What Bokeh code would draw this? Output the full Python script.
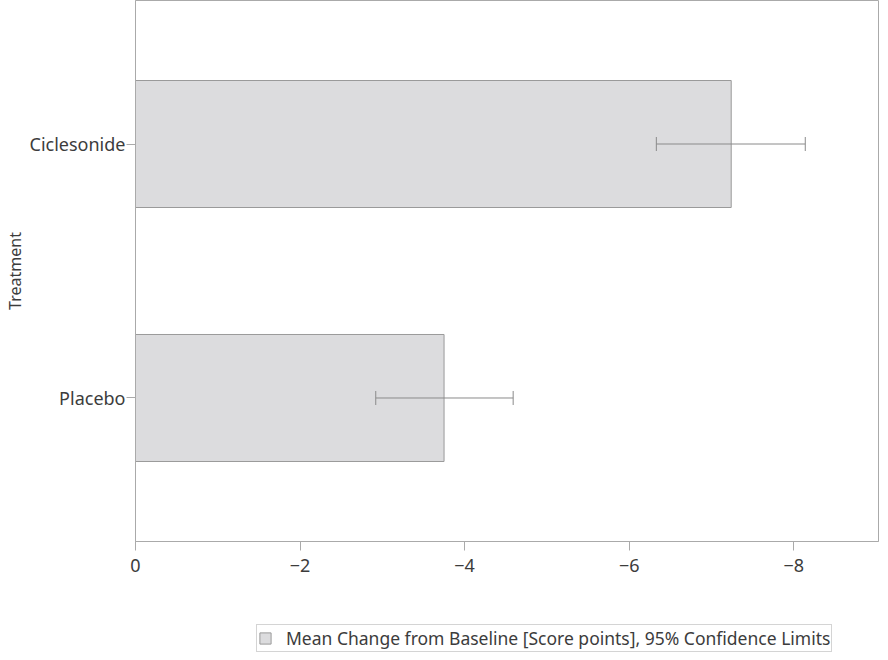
from bokeh.plotting import figure
from bokeh.layouts import column, row
from bokeh.models import (ColumnDataSource, Range1d, FactorRange, FixedTicker, Whisker,
                          TeeHead, Legend, LegendItem, Spacer)
from bokeh.embed import file_html
from bokeh.resources import INLINE

# ---- data ----
treatments = ["Placebo", "Ciclesonide"]
mean_change = [-3.75, -7.24]
ci_lower = [-2.92, -6.33]
ci_upper = [-4.59, -8.14]
x_tick_values = [0, -2, -4, -6, -8]
x_tick_labels = ["0", "\u22122", "\u22124", "\u22126", "\u22128"]
legend_label = "Mean Change from Baseline [Score points], 95% Confidence Limits"
y_axis_label = "Treatment"

FONT = "Noto Sans Light, Noto Sans"
TXT = "#3c3c3c"
GRID = "#aaaaaa"
BAR_FILL = "#dcdcde"
BAR_LINE = "#9a9a9a"

src = ColumnDataSource(dict(t=treatments, m=mean_change, lo=ci_lower, hi=ci_upper))

p = figure(width=880, height=612, output_backend="svg", toolbar_location=None,
           x_range=Range1d(0, -9.03),
           y_range=FactorRange(factors=treatments, range_padding=0.065,
                               range_padding_units="percent"),
           min_border_left=135, min_border_right=2, min_border_top=0,
           min_border_bottom=71)

bars = p.hbar(y="t", right="m", left=0, height=0.5, source=src,
              fill_color=BAR_FILL, line_color=BAR_LINE, line_width=1)

wh = Whisker(base="t", lower="lo", upper="hi", dimension="width", source=src,
             level="overlay", line_color="#8a8a8a", line_width=1,
             lower_head=TeeHead(size=14, line_color="#8a8a8a", line_width=1),
             upper_head=TeeHead(size=14, line_color="#8a8a8a", line_width=1))
p.add_layout(wh)

p.grid.visible = False
p.outline_line_color = GRID
p.outline_line_width = 1

p.xaxis.ticker = FixedTicker(ticks=x_tick_values)
p.xaxis.major_label_overrides = {v: l for v, l in zip(x_tick_values, x_tick_labels)}

for ax in (p.xaxis[0], p.yaxis[0]):
    ax.axis_line_color = GRID
    ax.major_tick_line_color = GRID
    ax.minor_tick_line_color = None
    ax.major_tick_in = 0
    ax.major_tick_out = 9
    ax.major_label_text_font = FONT
    ax.major_label_text_font_size = "18px"
    ax.major_label_text_color = TXT

p.xaxis.major_label_standoff = 8
p.yaxis.major_label_standoff = 1
p.yaxis.axis_label = y_axis_label
p.yaxis.axis_label_text_font = FONT
p.yaxis.axis_label_text_font_size = "16px"
p.yaxis.axis_label_text_font_style = "normal"
p.yaxis.axis_label_text_color = TXT
p.yaxis.axis_label_standoff = 1

# legend strip under the chart
lf = figure(width=624, height=40, output_backend="svg", toolbar_location=None,
            x_range=Range1d(0, 1), y_range=Range1d(0, 1),
            x_axis_type=None, y_axis_type=None,
            min_border_left=0, min_border_right=0, min_border_top=0, min_border_bottom=0)
lf.grid.visible = False
lf.outline_line_color = None
key = lf.hbar(y=[0.5], right=[0.5], left=0, height=0.5,
              fill_color=BAR_FILL, line_color=BAR_LINE, line_width=1, visible=False)

legend = Legend(items=[LegendItem(label=legend_label, renderers=[key])],
                location="bottom_left", orientation="horizontal",
                label_text_font=FONT, label_text_font_size="17.5px",
                label_text_color=TXT, glyph_width=14, glyph_height=14,
                label_height=18, label_standoff=14, padding=1, margin=0,
                border_line_color=GRID, border_line_width=1,
                background_fill_alpha=0, inactive_fill_alpha=0)
lf.add_layout(legend, "center")

layout = column(p, row(Spacer(width=256, height=40), lf))
open("out.html", "w").write(file_html(layout, INLINE))
